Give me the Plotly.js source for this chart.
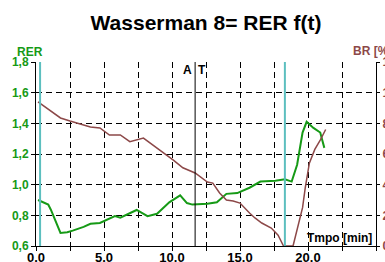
<!DOCTYPE html>
<html>
<head>
<meta charset="utf-8">
<script src="https://cdn.plot.ly/plotly-3.0.1.min.js"></script>
<style>html,body{margin:0;padding:0;background:#fff;}#chart{width:385px;height:262px;}</style>
</head>
<body>
<div id="chart"></div>
<script>
// RER (left axis) vs time [min]
const rerTime = [0.15, 0.5, 0.9, 1.1, 1.4, 1.8, 2.3, 2.7, 3.5, 4.0, 4.7, 5.2, 5.8, 6.2, 6.9, 7.4, 8.2, 8.9, 9.8, 10.6, 11.1, 11.5, 12.6, 13.3, 14.0, 14.8, 15.7, 16.5, 17.6, 18.3, 18.8, 19.2, 19.6, 19.9, 20.4, 20.9, 21.2];
const rerValues = [0.90, 0.885, 0.87, 0.835, 0.77, 0.685, 0.69, 0.70, 0.725, 0.745, 0.75, 0.77, 0.795, 0.785, 0.815, 0.835, 0.795, 0.81, 0.885, 0.93, 0.88, 0.87, 0.875, 0.885, 0.94, 0.945, 0.98, 1.02, 1.025, 1.035, 1.02, 1.13, 1.34, 1.41, 1.37, 1.34, 1.24];
// BR [%] (right axis) vs time [min]
const brTime = [0.15, 1.0, 1.8, 2.5, 3.2, 4.0, 4.7, 5.4, 6.2, 6.9, 7.9, 8.6, 9.1, 10.1, 10.8, 11.7, 12.6, 13.0, 13.5, 14.0, 14.5, 15.0, 15.7, 16.1, 16.6, 17.3, 17.8, 18.2, 18.9, 19.2, 19.6, 19.8, 20.1, 20.5, 20.9, 21.3];
const brValues = [94, 88.7, 83.5, 81.5, 79.6, 77.6, 77, 72.4, 72.4, 68, 70.4, 65.9, 62.6, 56, 51, 47.6, 41.7, 41, 34.6, 30, 29.3, 28, 21.5, 18.3, 15, 11.7, 7, 0, 0, 10, 25, 38, 54, 63, 69, 76];
// markers
const phaseTimes = [0.3, 18.3];
const atTime = 11.7;
// ticks
const xTickVals = [0, 2.5, 5, 7.5, 10, 12.5, 15, 17.5, 20, 22.5, 25];
const xTickText = ["0.0", "", "5.0", "", "10.0", "", "15.0", "", "20.0", "", "25.0"];
const yTickVals = [0.6, 0.8, 1.0, 1.2, 1.4, 1.6, 1.8];
const yTickText = ["0,6", "0,8", "1,0", "1,2", "1,4", "1,6", "1,8"];
const y2TickVals = [0, 20, 40, 60, 80, 100, 120];

const green = "#169a16";
const brown = "#8c4848";
const cyan = "#5cbfbf";
const font = "Liberation Sans, Arial, sans-serif";

const traces = [
  {x: brTime, y: brValues, yaxis: "y2", type: "scatter", mode: "lines", line: {color: brown, width: 1.5}, hoverinfo: "skip"},
  {x: rerTime, y: rerValues, yaxis: "y", type: "scatter", mode: "lines", line: {color: green, width: 2}, hoverinfo: "skip"}
];

const shapes = phaseTimes.map(t => ({type: "line", xref: "x", yref: "paper", x0: t, x1: t, y0: 0, y1: 1, line: {color: cyan, width: 2}}));
shapes.push({type: "line", xref: "x", yref: "paper", x0: atTime, x1: atTime, y0: 0, y1: 1, line: {color: "#000", width: 1}});

const layout = {
  width: 385, height: 262,
  margin: {l: 36, r: 9, t: 62, b: 16, pad: 0},
  paper_bgcolor: "#fff", plot_bgcolor: "#fff",
  showlegend: false,
  font: {family: font, size: 12, color: "#000"},
  title: {text: "<b>Wasserman 8= RER f(t)</b>", font: {family: font, size: 21, color: "#000"}, x: 0.5, xref: "paper", y: 0.912, yanchor: "middle"},
  xaxis: {
    range: [0, 25], tickvals: xTickVals, ticktext: xTickText,
    showgrid: true, gridcolor: "#000", gridwidth: 1, griddash: "6px,4px",
    showline: true, linecolor: "#000", linewidth: 1,
    ticks: "outside", ticklen: 4, tickcolor: "#000", ticklabelstandoff: -5,
    tickfont: {family: font, size: 13, color: "#000", weight: "bold"},
    zeroline: false, fixedrange: true
  },
  yaxis: {
    range: [0.6, 1.8], tickvals: yTickVals, ticktext: yTickText,
    showgrid: true, gridcolor: "#000", gridwidth: 1, griddash: "6px,4px",
    showline: true, linecolor: "#000", linewidth: 1,
    ticks: "outside", ticklen: 4, tickcolor: "#000",
    tickfont: {family: font, size: 12, color: green, weight: "bold"},
    zeroline: false, fixedrange: true
  },
  yaxis2: {
    range: [0, 120], tickvals: y2TickVals, overlaying: "y", side: "right",
    showgrid: false, showline: true, linecolor: "#000", linewidth: 1,
    ticks: "outside", ticklen: 3, tickcolor: "#000",
    tickfont: {family: font, size: 12, color: brown, weight: "bold"},
    zeroline: false, fixedrange: true
  },
  shapes: shapes,
  annotations: [
    {text: "<b>RER</b>", xref: "paper", yref: "paper", x: 0, y: 1, xanchor: "center", yanchor: "middle", xshift: -6, yshift: 10, showarrow: false, font: {family: font, size: 12, color: green}},
    {text: "<b>BR [%]</b>", xref: "paper", yref: "paper", x: 1, y: 1, xanchor: "left", yanchor: "middle", xshift: -25, yshift: 11, showarrow: false, font: {family: font, size: 12, color: brown}},
    {text: "<b>Tmpo [min]</b>", xref: "paper", yref: "paper", x: 1, y: 0, xanchor: "right", yanchor: "middle", xshift: -2, yshift: 8, showarrow: false, font: {family: font, size: 12, color: "#000"}},
    {text: "<b>A</b>", xref: "x", yref: "paper", x: atTime, y: 1, xanchor: "right", yanchor: "middle", xshift: -1, yshift: -8, showarrow: false, font: {family: font, size: 12, color: "#000"}},
    {text: "<b>T</b>", xref: "x", yref: "paper", x: atTime, y: 1, xanchor: "left", yanchor: "middle", xshift: 1, yshift: -8, showarrow: false, font: {family: font, size: 12, color: "#000"}}
  ]
};

Plotly.newPlot("chart", traces, layout, {staticPlot: true, displayModeBar: false});
</script>
</body>
</html>
